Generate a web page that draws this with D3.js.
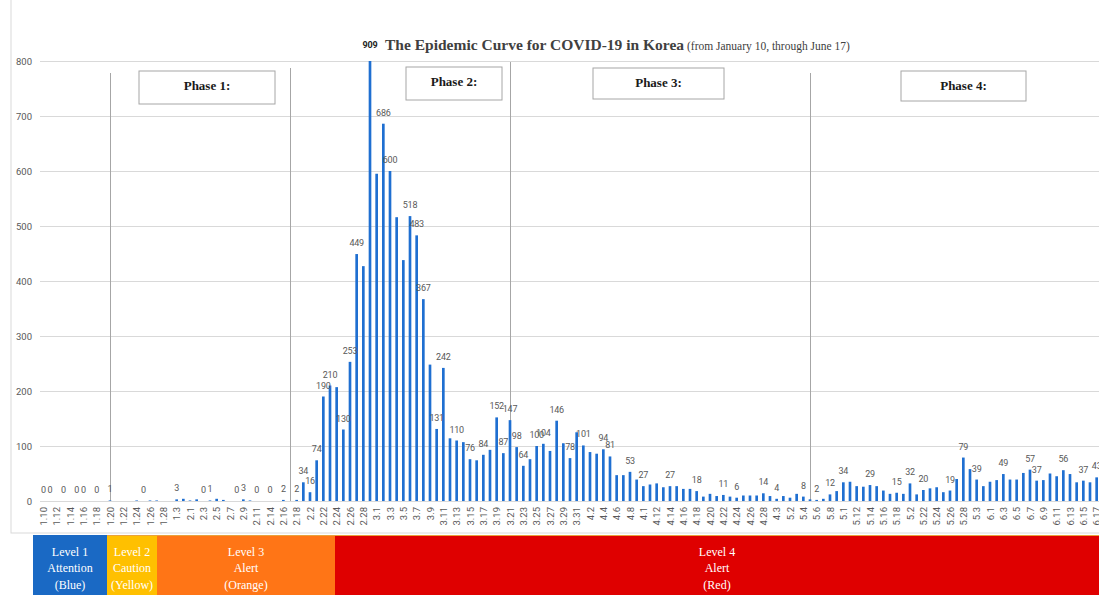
<!DOCTYPE html>
<html>
<head>
<meta charset="utf-8">
<script src="https://cdn.jsdelivr.net/npm/d3@7"></script>
<style>
  body { margin: 0; background: #fff; }
  svg { display: block; }
</style>
</head>
<body>
<div id="chart"></div>
<script>
// one category per reported day (2.13 is missing in the source sheet)
var days = [
  "1.10","1.11","1.12","1.13","1.14","1.15","1.16","1.17","1.18","1.19","1.20","1.21","1.22","1.23","1.24","1.25","1.26","1.27","1.28","1.29","1.3","1.31",
  "2.1","2.2","2.3","2.4","2.5","2.6","2.7","2.8","2.9","2.10","2.11","2.12","2.14","2.15","2.16","2.17","2.18","2.19","2.2","2.21","2.22","2.23","2.24","2.25","2.26","2.27","2.28","2.29",
  "3.1","3.2","3.3","3.4","3.5","3.6","3.7","3.8","3.9","3.10","3.11","3.12","3.13","3.14","3.15","3.16","3.17","3.18","3.19","3.20","3.21","3.22","3.23","3.24","3.25","3.26","3.27","3.28","3.29","3.30","3.31",
  "4.1","4.2","4.3","4.4","4.5","4.6","4.7","4.8","4.9","4.1","4.11","4.12","4.13","4.14","4.15","4.16","4.17","4.18","4.19","4.20","4.21","4.22","4.23","4.24","4.25","4.26","4.27","4.28","4.29","4.3",
  "5.1","5.2","5.3","5.4","5.5","5.6","5.7","5.8","5.9","5.1","5.11","5.12","5.13","5.14","5.15","5.16","5.17","5.18","5.19","5.2","5.21","5.22","5.23","5.24","5.25","5.26","5.27","5.28","5.29","5.3","5.31",
  "6.1","6.2","6.3","6.4","6.5","6.6","6.7","6.8","6.9","6.10","6.11","6.12","6.13","6.14","6.15","6.16","6.17"
];

var newCases = [
  0,0,0,0,0,0,0,0,0,0,1,0,0,0,1,0,1,1,0,0,3,4,
  1,3,0,1,4,2,0,0,3,1,0,0,0,0,2,0,2,34,16,74,190,210,207,130,253,449,427,909,
  595,686,600,516,438,518,483,367,248,131,242,114,110,107,76,74,84,93,152,87,147,98,64,76,100,104,91,146,105,78,125,
  101,89,86,94,81,47,47,53,39,27,30,32,25,27,27,22,22,18,8,13,9,11,8,6,10,10,10,14,9,4,
  9,6,13,8,3,2,4,12,18,34,35,27,26,29,27,19,13,15,13,32,12,20,23,25,16,19,40,79,58,39,27,
  35,38,49,39,39,51,57,37,38,50,45,56,49,34,37,34,43
];

// bars that carry a value label in the original
var labelled = [0,1,3,5,6,8,10,15,20,24,25,29,30,32,34,36,38,39,40,41,42,43,45,46,47,49,51,52,55,56,57,59,60,
  62,64,66,68,69,70,71,72,74,75,77,79,81,84,85,88,90,94,98,102,104,108,110,114,116,118,120,124,128,130,132,
  136,138,140,144,148,149,153,156,158];

var yTicks = [0,100,200,300,400,500,600,700,800];

var phaseNames = ["Phase 1:", "Phase 2:", "Phase 3:", "Phase 4:"];
var phaseBreaks = ["1.20", "2.17", "3.21", "5.5"];

var levelNames = [
  ["Level 1", "Attention", "(Blue)"],
  ["Level 2", "Caution", "(Yellow)"],
  ["Level 3", "Alert", "(Orange)"],
  ["Level 4", "Alert", "(Red)"]
];

var W = 1099, H = 595;
var sans = "Roboto, Lato, sans-serif";
var serif = "'Liberation Serif', serif";

var svg = d3.select("#chart").append("svg")
    .attr("width", W)
    .attr("height", H);

// chart frame
svg.append("rect")
    .attr("x", 11).attr("y", -2)
    .attr("width", W).attr("height", 535)
    .attr("fill", "none")
    .attr("stroke", "#d9d9d9");

var x = d3.scaleBand()
    .domain(d3.range(days.length))
    .range([40, 1100])
    .paddingInner(0.6)
    .paddingOuter(0.3);
var y = d3.scaleLinear().domain([0, 800]).range([501, 61]).clamp(true);

// y axis + gridlines
var yAxis = svg.append("g")
    .attr("transform", "translate(40,0)")
    .call(d3.axisLeft(y).tickValues(yTicks).tickSize(-1059).tickPadding(8));
yAxis.select(".domain").remove();
yAxis.selectAll("line").attr("stroke", "#d9d9d9");
yAxis.selectAll("text")
    .attr("fill", "#595959")
    .style("font-family", sans)
    .style("font-size", "9.5px");

// phase separators
var breakIdx = phaseBreaks.map(function(d) { return days.indexOf(d); });
svg.selectAll(".sep")
    .data(breakIdx)
  .enter().append("line")
    .attr("class", "sep")
    .attr("x1", function(i) { return x(i) + x.bandwidth() / 2 + 0.5; })
    .attr("x2", function(i) { return x(i) + x.bandwidth() / 2 + 0.5; })
    .attr("y1", function(d, k) { return [73, 68, 62, 73][k]; })
    .attr("y2", 501)
    .attr("stroke", "#a6a6a6")
    .attr("stroke-width", 1);

// x axis
var xAxis = svg.append("g")
    .attr("transform", "translate(0,501)")
    .call(d3.axisBottom(x)
        .tickValues(d3.range(0, days.length, 2))
        .tickFormat(function(i) { return days[i]; })
        .tickSize(0));
xAxis.select(".domain").remove();
xAxis.selectAll("text")
    .attr("transform", "rotate(-90)")
    .attr("x", -6)
    .attr("y", 0)
    .attr("dy", "0.4em")
    .style("text-anchor", "end")
    .attr("fill", "#595959")
    .style("font-family", sans)
    .style("font-size", "9.5px");

// bars
svg.selectAll(".bar")
    .data(newCases)
  .enter().append("rect")
    .attr("class", "bar")
    .attr("x", function(d, i) { return x(i); })
    .attr("width", x.bandwidth())
    .attr("y", function(d) { return y(d); })
    .attr("height", function(d) { return 501 - y(d); })
    .attr("fill", "#1f6fd1");

// value labels
svg.selectAll(".val")
    .data(labelled)
  .enter().append("text")
    .attr("class", "val")
    .attr("x", function(i) { return x(i) + x.bandwidth() / 2; })
    .attr("y", function(i) { return newCases[i] > 800 ? 48 : y(newCases[i]) - 8; })
    .attr("text-anchor", "middle")
    .attr("fill", function(i) { return newCases[i] > 800 ? "#222" : "#595959"; })
    .style("font-weight", function(i) { return newCases[i] > 800 ? "bold" : "normal"; })
    .style("font-family", sans)
    .style("font-size", "9px")
    .style("letter-spacing", "-0.2px")
    .text(function(i) { return newCases[i]; });

// title
var title = svg.append("text")
    .attr("x", 385).attr("y", 50)
    .attr("fill", "#404040")
    .style("font-family", serif);
title.append("tspan")
    .style("font-weight", "bold")
    .style("font-size", "15.5px")
    .text("The Epidemic Curve for COVID-19 in Korea");
title.append("tspan")
    .style("font-size", "11.5px")
    .text(" (from January 10, through June 17)");

// phase boxes
var phaseBox = [[139, 71, 136, 33], [406, 67, 96, 33], [593, 68, 131, 31], [901, 71, 125, 30]];
var pg = svg.selectAll(".phase")
    .data(phaseNames)
  .enter().append("g")
    .attr("class", "phase");
pg.append("rect")
    .attr("x", function(d, k) { return phaseBox[k][0]; })
    .attr("y", function(d, k) { return phaseBox[k][1]; })
    .attr("width", function(d, k) { return phaseBox[k][2]; })
    .attr("height", function(d, k) { return phaseBox[k][3]; })
    .attr("fill", "#fff")
    .attr("stroke", "#a6a6a6");
pg.append("text")
    .attr("x", function(d, k) { return phaseBox[k][0] + phaseBox[k][2] / 2; })
    .attr("y", function(d, k) { return phaseBox[k][1] + 19; })
    .attr("text-anchor", "middle")
    .attr("fill", "#1a1a1a")
    .style("font-family", serif)
    .style("font-weight", "bold")
    .style("font-size", "13px")
    .text(function(d) { return d; });

// alert level strip
var levelEdges = [33, 107, 157, 335, 1099];
var levelColors = ["#1a69c4", "#ffc000", "#ff7516", "#df0000"];
var lg = svg.selectAll(".level")
    .data(levelNames)
  .enter().append("g")
    .attr("class", "level");
lg.append("clipPath")
    .attr("id", function(d, k) { return "lvclip" + k; })
  .append("rect")
    .attr("x", function(d, k) { return levelEdges[k]; })
    .attr("y", 535)
    .attr("width", function(d, k) { return levelEdges[k + 1] - levelEdges[k]; })
    .attr("height", 60);
lg.append("rect")
    .attr("x", function(d, k) { return levelEdges[k]; })
    .attr("y", 535)
    .attr("width", function(d, k) { return levelEdges[k + 1] - levelEdges[k]; })
    .attr("height", 60)
    .attr("fill", function(d, k) { return levelColors[k]; });
lg.each(function(d, k) {
  var cx = (levelEdges[k] + levelEdges[k + 1]) / 2;
  d3.select(this).selectAll("text")
      .data(d)
    .enter().append("text")
      .attr("clip-path", "url(#lvclip" + k + ")")
      .attr("x", cx)
      .attr("y", function(t, j) { return 556 + j * 16.3; })
      .attr("text-anchor", "middle")
      .attr("fill", "#fff")
      .style("font-family", serif)
      .style("font-size", "12px")
      .text(function(t) { return t; });
});
svg.append("line")
    .attr("x1", 107).attr("x2", 1099)
    .attr("y1", 535.5).attr("y2", 535.5)
    .attr("stroke", "#e9a23b")
    .attr("stroke-width", 1.2);
</script>
</body>
</html>
